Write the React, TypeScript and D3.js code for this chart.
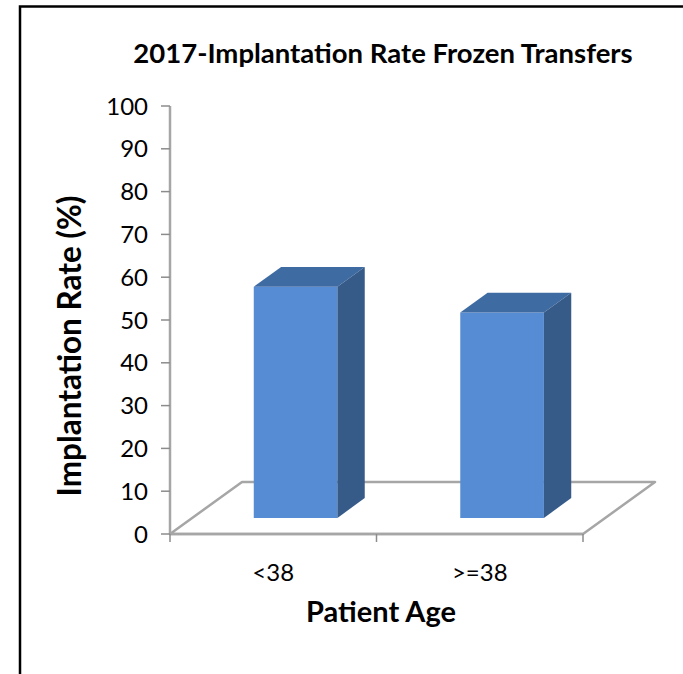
import * as React from "react";
import * as d3 from "d3";

const categories = ["<38", ">=38"];
const implantationRate = [54, 48];
const yTicks = [0, 10, 20, 30, 40, 50, 60, 70, 80, 90, 100];

const W = 683;
const H = 674;
// 3D floor depth offset (back edge relative to front edge)
const DX = 72;
const DY = 52;
const Z0 = 0.31;
const Z1 = 0.69;

export default function App() {
  const y = d3.scaleLinear().domain([0, 100]).range([534, 106]);
  const x = d3.scaleBand<string>().domain(categories).range([170, 583]);
  const barW = x.bandwidth() * 0.405;

  const proj = (px: number, v: number, z: number): [number, number] => [
    px + z * DX,
    y(v) - z * DY,
  ];
  const poly = (pts: [number, number][]) => d3.line()(pts) + "Z";

  const x0 = x.range()[0];
  const x1 = x.range()[1];
  const floor = poly([proj(x0, 0, 0), proj(x1, 0, 0), proj(x1, 0, 1), proj(x0, 0, 1)]);

  const font = "Lato, 'Open Sans', sans-serif";

  return (
    <svg
      width={W}
      height={H}
      style={{ position: "absolute", left: 0, top: 0, background: "#fff" }}
    >
      <rect x={20} y={6.5} width={W + 10} height={H + 10} fill="#fff" stroke="#000" strokeWidth={2.5} />

      <text x={383} y={63} textAnchor="middle" fontFamily={font} fontWeight="bold" fontSize={27.5}>
        2017-Implantation Rate Frozen Transfers
      </text>

      {/* floor */}
      <path d={floor} fill="none" stroke="#a6a6a6" strokeWidth={2.5} strokeLinejoin="round" />

      {/* bars */}
      {categories.map((c, i) => {
        const v = implantationRate[i];
        const cx = (x(c) as number) + x.bandwidth() / 2;
        const l = cx - barW / 2;
        const r = cx + barW / 2;
        return (
          <g key={c}>
            <path d={poly([proj(l, 0, Z0), proj(r, 0, Z0), proj(r, v, Z0), proj(l, v, Z0)])} fill="#568cd4" />
            <path d={poly([proj(l, v, Z0), proj(r, v, Z0), proj(r, v, Z1), proj(l, v, Z1)])} fill="#3f6ba3" />
            <path d={poly([proj(r, 0, Z0), proj(r, v, Z0), proj(r, v, Z1), proj(r, 0, Z1)])} fill="#365b89" />
          </g>
        );
      })}

      {/* value axis */}
      <line x1={x0} x2={x0} y1={y(0)} y2={y(100)} stroke="#a6a6a6" strokeWidth={2.5} />
      {yTicks.map((t) => (
        <g key={t}>
          <line x1={x0 - 9} x2={x0} y1={y(t)} y2={y(t)} stroke="#8c8c8c" strokeWidth={1.5} />
          <text x={148} y={y(t)} dy="0.36em" textAnchor="end" fontFamily={font} fontSize={24}>
            {t}
          </text>
        </g>
      ))}

      {/* category axis */}
      <line x1={x0} x2={x1} y1={y(0)} y2={y(0)} stroke="#a6a6a6" strokeWidth={2.5} />
      {[x0, ...categories.map((c) => (x(c) as number) + x.bandwidth())].map((tx, i) => (
        <line key={i} x1={tx} x2={tx} y1={y(0)} y2={y(0) + 8} stroke="#8c8c8c" strokeWidth={1.5} />
      ))}
      {categories.map((c) => (
        <text key={c} x={(x(c) as number) + x.bandwidth() / 2} y={581} textAnchor="middle" fontFamily={font} fontSize={24}>
          {c}
        </text>
      ))}

      <text x={381} y={622} textAnchor="middle" fontFamily={font} fontWeight="bold" fontSize={29}>
        Patient Age
      </text>
      <text
        transform={`translate(81,346) rotate(-90)`}
        textAnchor="middle"
        fontFamily={font}
        fontWeight="bold"
        fontSize={31.5}
      >
        Implantation Rate (%)
      </text>
    </svg>
  );
}
